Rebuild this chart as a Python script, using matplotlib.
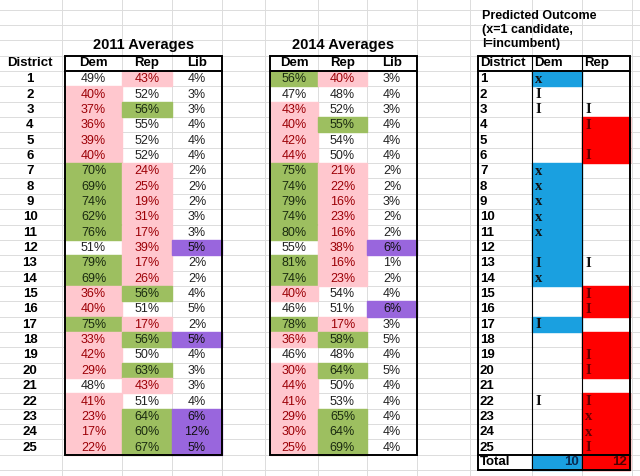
import matplotlib.pyplot as plt
from matplotlib.patches import Rectangle

districts = list(range(1, 26))
dem11 = [49, 40, 37, 36, 39, 40, 70, 69, 74, 62, 76, 51, 79, 69, 36, 40, 75, 33, 42, 29, 48, 41, 23, 17, 22]
rep11 = [43, 52, 56, 55, 52, 52, 24, 25, 19, 31, 17, 39, 17, 26, 56, 51, 17, 56, 50, 63, 43, 51, 64, 60, 67]
lib11 = [4, 3, 3, 4, 4, 4, 2, 2, 2, 3, 3, 5, 2, 2, 4, 5, 2, 5, 4, 3, 3, 4, 6, 12, 5]
dem14 = [56, 47, 43, 40, 42, 44, 75, 74, 79, 74, 80, 55, 81, 74, 40, 46, 78, 36, 46, 30, 44, 41, 29, 30, 25]
rep14 = [40, 48, 52, 55, 54, 50, 21, 22, 16, 23, 16, 38, 16, 23, 54, 51, 17, 58, 48, 64, 50, 53, 65, 64, 69]
lib14 = [3, 4, 3, 4, 4, 4, 2, 2, 3, 2, 2, 6, 1, 2, 4, 6, 3, 5, 4, 5, 4, 4, 4, 4, 4]
# cell shading: p=pink, g=green, v=purple, w=white
dem11_c = "wppppp" + "ggggg" + "w" + "gg" + "pp" + "g" + "ppp" + "w" + "pppp"
rep11_c = "pwgwww" + "ppppp" + "p" + "pp" + "gw" + "p" + "gwg" + "p" + "wggg"
lib11_c = "wwwwww" + "wwwww" + "v" + "ww" + "ww" + "w" + "vww" + "w" + "wvvv"
dem14_c = "gwpppp" + "ggggg" + "w" + "gg" + "pw" + "g" + "pwp" + "p" + "pppp"
rep14_c = "pwwgww" + "ppppp" + "p" + "pp" + "ww" + "p" + "gwg" + "w" + "wggg"
lib14_c = "wwwwww" + "wwwww" + "v" + "ww" + "wv" + "w" + "www" + "w" + "wwww"
pred_dem = ["x", "I", "I", "", "", "", "x", "x", "x", "x", "x", "", "I", "x", "", "", "I", "", "", "", "", "I", "", "", ""]
pred_rep = ["", "", "I", "I", "", "I", "", "", "", "", "", "", "I", "", "I", "I", "", "", "I", "I", "", "I", "x", "x", "I"]
pred_dem_fill = [1, 0, 0, 0, 0, 0, 1, 1, 1, 1, 1, 1, 1, 1, 0, 0, 1, 0, 0, 0, 0, 0, 0, 0, 0]
pred_rep_fill = [0, 0, 0, 1, 1, 1, 0, 0, 0, 0, 0, 0, 0, 0, 1, 1, 0, 1, 1, 1, 0, 1, 1, 1, 1]
total_dem, total_rep = 10, 12

fills = {"p": "#ffc7ce", "g": "#9dbf60", "v": "#9966dd", "w": None}
texts = {"p": "#9c0006", "g": "#1a2a10", "v": "#111111", "w": "#222222"}

plt.rcParams['font.family'] = ['Liberation Sans', 'DejaVu Sans']
fig = plt.figure(figsize=(6.4, 4.76), dpi=100)
ax = fig.add_axes([0, 0, 1, 1])
ax.set_xlim(0, 640)
ax.set_ylim(476, 0)
ax.axis('off')

row0, rh = 71, 15.35
def ry(i):
    return row0 + i * rh

# spreadsheet grid
for k in range(-4, 28):
    ax.plot([0, 640], [ry(k), ry(k)], color="#dcdcdc", lw=0.7, zorder=0)
for gx in [62, 122, 172, 222, 265, 318, 367, 417, 470, 532, 582, 632]:
    ax.plot([gx, gx], [0, 476], color="#dcdcdc", lw=0.7, zorder=0)

def block(x0, widths, cols, title):
    xs = [x0]
    for w in widths:
        xs.append(xs[-1] + w)
    for (vals, cc), a, b in zip(cols, xs[:-1], xs[1:]):
        for i, (v, c) in enumerate(zip(vals, cc)):
            if fills[c]:
                ax.add_patch(Rectangle((a, ry(i)), b - a, rh, color=fills[c], zorder=1))
            ax.text((a + b) / 2, ry(i) + rh / 2 + 0.5, f"{v}%", ha="center", va="center",
                    fontsize=9, color=texts[c], zorder=3)
    for name, a, b in zip(["Dem", "Rep", "Lib"], xs[:-1], xs[1:]):
        ax.text((a + b) / 2, ry(-0.5), name, ha="center", va="center", fontsize=9.5,
                fontweight="bold", zorder=3)
    ax.text((xs[0] + xs[-1]) / 2, ry(-1.7), title, ha="center", va="center",
            fontsize=10.5, fontweight="bold")
    ax.add_patch(Rectangle((xs[0], ry(-1)), xs[-1] - xs[0], 26 * rh, fill=False, lw=1.4, zorder=4))
    ax.plot([xs[0], xs[-1]], [ry(0), ry(0)], color="k", lw=1.4, zorder=4)

ax.text(30, ry(-0.5), "District", ha="center", va="center", fontsize=9.5, fontweight="bold")
for i, d in enumerate(districts):
    ax.text(30, ry(i) + rh / 2 + 0.5, str(d), ha="center", va="center", fontsize=9.5, fontweight="bold")

block(65, [57, 50, 50], [(dem11, dem11_c), (rep11, rep11_c), (lib11, lib11_c)], "2011 Averages")
block(270, [48, 49, 50], [(dem14, dem14_c), (rep14, rep14_c), (lib14, lib14_c)], "2014 Averages")

# predicted outcome
px = [478, 532, 582, 630]
for i in range(25):
    if pred_dem_fill[i]:
        ax.add_patch(Rectangle((px[1], ry(i)), px[2] - px[1], rh, color="#1aa0e0", zorder=1))
    if pred_rep_fill[i]:
        ax.add_patch(Rectangle((px[2], ry(i)), px[3] - px[2], rh, color="#ff0000", zorder=1))
    ax.text(px[0] + 2, ry(i) + rh / 2 + 0.5, str(districts[i]), ha="left", va="center",
            fontsize=9.5, fontweight="bold")
    ax.text(px[1] + 3, ry(i) + rh / 2 + 0.5, pred_dem[i], ha="left", va="center", fontsize=10.5,
            fontweight="bold", family="Liberation Serif", color="#111111")
    ax.text(px[2] + 3, ry(i) + rh / 2 + 0.5, pred_rep[i], ha="left", va="center", fontsize=10.5,
            fontweight="bold", family="Liberation Serif",
            color="#660000" if pred_rep_fill[i] else "#111111")
ax.add_patch(Rectangle((px[1], ry(25)), px[2] - px[1], rh, color="#1aa0e0", zorder=1))
ax.add_patch(Rectangle((px[2], ry(25)), px[3] - px[2], rh, color="#ff0000", zorder=1))
ax.text(px[0] + 2, ry(25) + rh / 2, "Total", ha="left", va="center", fontsize=9.5, fontweight="bold")
ax.text(px[2] - 3, ry(25) + rh / 2, str(total_dem), ha="right", va="center", fontsize=9.5, fontweight="bold", color="#0a2a50")
ax.text(px[3] - 3, ry(25) + rh / 2, str(total_rep), ha="right", va="center", fontsize=9.5, fontweight="bold", color="#500000")
for n, name in enumerate(["District", "Dem", "Rep"]):
    ax.text(px[n] + 2, ry(-0.5), name, ha="left", va="center", fontsize=9.5, fontweight="bold")
ax.text(px[0] + 4, 30, "Predicted Outcome\n(x=1 candidate,\nI=incumbent)", ha="left", va="center",
        fontsize=9, fontweight="bold", linespacing=1.2)
ax.add_patch(Rectangle((px[0], ry(-1)), px[3] - px[0], 27 * rh, fill=False, lw=1.4, zorder=4))
for yy in [ry(0), ry(25)]:
    ax.plot([px[0], px[3]], [yy, yy], color="k", lw=1.4, zorder=4)
for xx in [px[1], px[2]]:
    ax.plot([xx, xx], [ry(-1), ry(26)], color="k", lw=0.8, zorder=4)

fig.savefig("out.png", dpi=100)
